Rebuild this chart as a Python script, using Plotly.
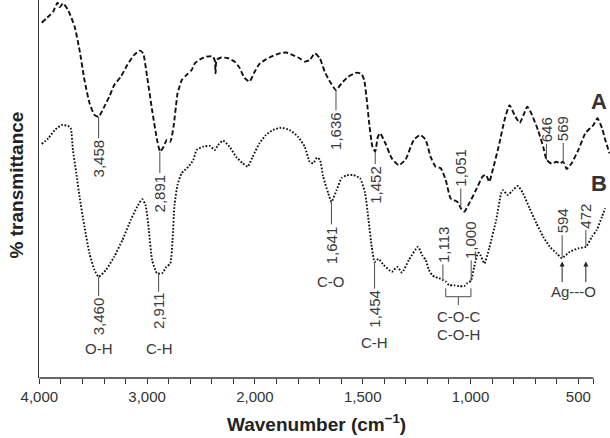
import numpy as np
import plotly.graph_objects as go

# ---- data (wavenumber cm-1, % transmittance in arbitrary units) ----
A_wn = [3978, 3902, 3872, 3831, 3810, 3780, 3734, 3672, 3627, 3581,
        3535, 3489, 3450, 3397, 3351, 3305, 3244, 3184, 3122, 3067,
        3037, 3000, 2954, 2908, 2879, 2847, 2817, 2785, 2755, 2718,
        2709, 2679, 2633, 2587, 2556, 2510, 2450, 2395, 2373, 2365,
        2356, 2312, 2250, 2189, 2143, 2097, 2051, 2006, 1979, 1949,
        1917, 1886, 1855, 1824, 1793, 1769, 1746, 1722, 1699, 1676,
        1652, 1624, 1598, 1567, 1528, 1505, 1493, 1481, 1470, 1455,
        1442, 1430, 1419, 1395, 1365, 1333, 1302, 1263, 1232, 1208,
        1185, 1162, 1138, 1115, 1092, 1061, 1045, 1029, 1006, 975,
        944, 928, 913, 897, 866, 842, 819, 796, 772, 754,
        737, 718, 687, 663, 647, 624, 601, 585, 570, 554,
        531, 500, 468, 445, 430, 411, 390, 375, 355]
A_T = [94.0, 96.0, 96.9, 99.3, 98.1, 99.1, 97.4, 92.9, 86.8, 78.8,
       72.8, 69.6, 69.1, 71.8, 74.4, 77.5, 79.7, 82.8, 85.4, 86.6,
       85.9, 79.7, 70.9, 63.0, 59.9, 61.2, 63.0, 62.5, 66.5, 75.3,
       76.2, 78.8, 80.2, 81.5, 83.3, 84.3, 85.0, 85.1, 84.1, 80.6,
       84.1, 84.8, 84.6, 83.7, 82.1, 79.4, 78.4, 80.8, 83.1, 84.3,
       85.2, 85.9, 86.1, 85.4, 84.6, 83.7, 84.1, 85.9, 84.6, 81.0,
       78.4, 76.2, 78.0, 79.7, 80.8, 80.4, 78.8, 73.5, 67.4, 61.2,
       59.9, 63.8, 64.7, 62.1, 58.1, 56.3, 57.7, 63.0, 64.3, 63.0,
       58.5, 55.9, 55.5, 52.4, 47.5, 46.6, 44.9, 44.0, 46.2, 49.7,
       53.3, 53.7, 51.9, 55.0, 62.1, 68.3, 72.2, 69.6, 67.5, 69.6,
       71.8, 70.0, 65.6, 61.2, 57.7, 56.7, 57.2, 56.8, 57.2, 55.3,
       56.8, 60.3, 64.7, 66.1, 66.9, 68.7, 66.1, 63.0, 59.4]

B_wn = [3978, 3917, 3856, 3794, 3734, 3709, 3688, 3657, 3627, 3581,
        3535, 3489, 3450, 3382, 3305, 3229, 3152, 3092, 3046, 3015,
        2984, 2954, 2908, 2862, 2822, 2785, 2764, 2746, 2718, 2679,
        2617, 2572, 2541, 2480, 2418, 2373, 2342, 2296, 2235, 2174,
        2113, 2067, 2021, 1979, 1949, 1917, 1879, 1839, 1800, 1769,
        1746, 1730, 1712, 1698, 1684, 1660, 1645, 1621, 1598, 1575,
        1543, 1512, 1489, 1473, 1458, 1445, 1427, 1403, 1365, 1339,
        1318, 1286, 1244, 1224, 1208, 1193, 1178, 1162, 1146, 1128,
        1115, 1100, 1076, 1053, 1029, 1014, 998, 983, 966, 959,
        936, 913, 881, 858, 850, 827, 805, 780, 757, 726,
        694, 663, 632, 601, 577, 539, 500, 464, 437, 414,
        390, 375]
B_T = [61.9, 63.4, 65.6, 66.9, 66.7, 66.1, 60.3, 54.2, 48.0, 40.0,
       33.0, 28.6, 26.8, 28.6, 32.1, 36.5, 41.8, 45.3, 47.3, 45.8,
       39.2, 31.2, 27.7, 27.7, 29.4, 30.3, 36.5, 45.8, 51.1, 54.2,
       55.9, 57.7, 60.3, 61.2, 61.4, 60.3, 61.6, 62.8, 61.2, 58.5,
       56.8, 55.9, 58.5, 62.1, 64.3, 65.6, 66.2, 65.6, 63.8, 61.2,
       57.2, 56.8, 58.3, 57.7, 53.4, 48.9, 46.6, 49.7, 52.9, 53.6,
       53.7, 52.8, 48.9, 41.8, 34.7, 30.7, 31.5, 29.9, 28.1, 29.4,
       27.9, 31.2, 34.7, 32.5, 31.2, 28.6, 27.2, 26.7, 26.4, 25.9,
       25.5, 24.6, 24.5, 24.3, 24.3, 25.1, 25.7, 29.4, 33.0, 33.1,
       30.3, 34.4, 41.8, 48.9, 49.7, 48.4, 49.6, 50.8, 48.9, 44.9,
       40.9, 37.4, 34.7, 33.0, 31.7, 33.4, 34.3, 34.7, 37.4, 39.2,
       42.7, 44.9]

# peak labels
peakA_text = ["3,458", "2,891", "1,636", "1,452", "1,051", "646", "569"]
peakA_wn = [3450, 2882, 1624, 1442, 1045, 648, 570]
peakA_T = [69.1, 59.9, 76.2, 59.9, 45.0, 57.7, 56.9]

peakB_text = ["3,460", "2,911", "1,641", "1,454", "1,113", "1,000", "594", "472"]
peakB_wn = [3450, 2893, 1645, 1445, 1128, 997, 575, 465]
peakB_T = [26.8, 27.7, 46.6, 30.4, 25.9, 25.7, 31.7, 34.7]

bond_text = ["O-H", "C-H", "C-O", "C-H", "C-O-C", "C-O-H", "Ag---O"]
bond_wn = [3443, 2883, 1645, 1445, 1057, 1057, 523]
bond_T = [7.9, 7.9, 25.5, 9.3, 16.2, 11.4, 22.8]

agarrow_wn = [575, 465]
agarrow_T = 30.8

bracket_wn = [1115, 998]
bracket_T = [23.7, 21.5, 19.3]

tick_wn = list(range(4000, 1999, -200)) + list(range(1900, 499, -100)) + [430]
major_labels = {4000: "4,000", 3000: "3,000", 2000: "2,000", 1500: "1,500", 1000: "1,000", 500: "500"}
tick_text = [major_labels.get(w, "") for w in tick_wn]
axis_end_wn = 430

# ---- layout offsets (pixels) ----
peakA_off = [42, 42, 41, 33, -40, -30, -34]
peakB_off = [40, 38, 43, 46, -35, -41, -37, -31]


def to_u(w):
    """FTIR axis: scale below 2000 cm-1 expanded twofold."""
    w = np.asarray(w, dtype=float)
    return np.where(w >= 2000, 4000 - w, 2000 + 2 * (2000 - w))


FONT = "Liberation Sans, Arial, sans-serif"
TXT = "#3a3a3a"
LINE = "#4a4a4a"

fig = go.Figure()
fig.add_trace(go.Scatter(x=to_u(A_wn), y=A_T, mode="lines", showlegend=False,
                         line=dict(color="#111111", width=1.9, dash="5px,2.6px",
                                   shape="spline", smoothing=0.5)))
fig.add_trace(go.Scatter(x=to_u(B_wn), y=B_T, mode="lines", showlegend=False,
                         line=dict(color="#111111", width=1.9, dash="1.7px,1.7px",
                                   shape="spline", smoothing=0.5)))

ann = []
for txt, w, t, off in list(zip(peakA_text, peakA_wn, peakA_T, peakA_off)) + \
        list(zip(peakB_text, peakB_wn, peakB_T, peakB_off)):
    ann.append(dict(x=float(to_u(w)), y=t, xref="x", yref="y", text=txt, textangle=-90,
                    showarrow=True, arrowhead=0, arrowwidth=1, arrowcolor=LINE,
                    ax=0, ay=off, standoff=0, borderpad=1,
                    font=dict(family=FONT, size=15, color=TXT)))
for txt, w, t in zip(bond_text, bond_wn, bond_T):
    ann.append(dict(x=float(to_u(w)), y=t, xref="x", yref="y", text=txt, showarrow=False,
                    xanchor="center", yanchor="middle",
                    font=dict(family=FONT, size=15, color=TXT)))
for w in agarrow_wn:
    ann.append(dict(x=float(to_u(w)), y=agarrow_T, xref="x", yref="y", text="·",
                    showarrow=True, arrowhead=2, arrowsize=1, arrowwidth=1,
                    arrowcolor="#222222", ax=0, ay=22, standoff=0, borderpad=0,
                    font=dict(family=FONT, size=2, color="rgba(0,0,0,0)")))
ann.append(dict(x=float(to_u(406)), y=73.1, xref="x", yref="y", text="<b>A</b>",
                showarrow=False, font=dict(family=FONT, size=22, color="#333333")))
ann.append(dict(x=float(to_u(402)), y=51.5, xref="x", yref="y", text="<b>B</b>",
                showarrow=False, font=dict(family=FONT, size=22, color="#333333")))
ann.append(dict(x=float(to_u(4000) + to_u(axis_end_wn)) / 2, y=-0.118, xref="x", yref="paper",
                text="<b>Wavenumber (cm<sup>−1</sup>)</b>", showarrow=False,
                xanchor="center", yanchor="middle",
                font=dict(family=FONT, size=19, color="#222222")))
ann.append(dict(x=-0.04, y=0.51, xref="paper", yref="paper", text="<b>% transmittance</b>",
                textangle=-90, showarrow=False, xanchor="center", yanchor="middle",
                font=dict(family=FONT, size=19, color="#222222")))

u1, u2 = float(to_u(bracket_wn[0])), float(to_u(bracket_wn[1]))
um = (u1 + u2) / 2
shapes = [
    dict(type="line", xref="x", yref="paper", x0=float(to_u(4000)), x1=float(to_u(axis_end_wn)),
         y0=0, y1=0, line=dict(color="#333333", width=1.3)),
    dict(type="path", xref="x", yref="y",
         path=f"M {u1},{bracket_T[0]} L {u1},{bracket_T[1]} L {u2},{bracket_T[1]} L {u2},{bracket_T[0]}",
         line=dict(color=LINE, width=1)),
    dict(type="line", xref="x", yref="y", x0=um, x1=um, y0=bracket_T[1], y1=bracket_T[2],
         line=dict(color=LINE, width=1)),
]

fig.update_layout(
    width=610, height=438,
    margin=dict(l=39, r=0, t=0, b=60),
    paper_bgcolor="white", plot_bgcolor="white",
    annotations=ann, shapes=shapes,
    xaxis=dict(range=[-3, 5294], showline=False, showgrid=False, zeroline=False,
               tickmode="array", tickvals=to_u(tick_wn).tolist(), ticktext=tick_text,
               ticks="outside", ticklen=5, tickwidth=1, tickcolor="#333333",
               tickfont=dict(family=FONT, size=15, color="#333333")),
    yaxis=dict(range=[0, 100], showline=True, linecolor="#333333", linewidth=1.3,
               showgrid=False, zeroline=False, showticklabels=False, ticks=""),
)

fig.write_html("out.html")
